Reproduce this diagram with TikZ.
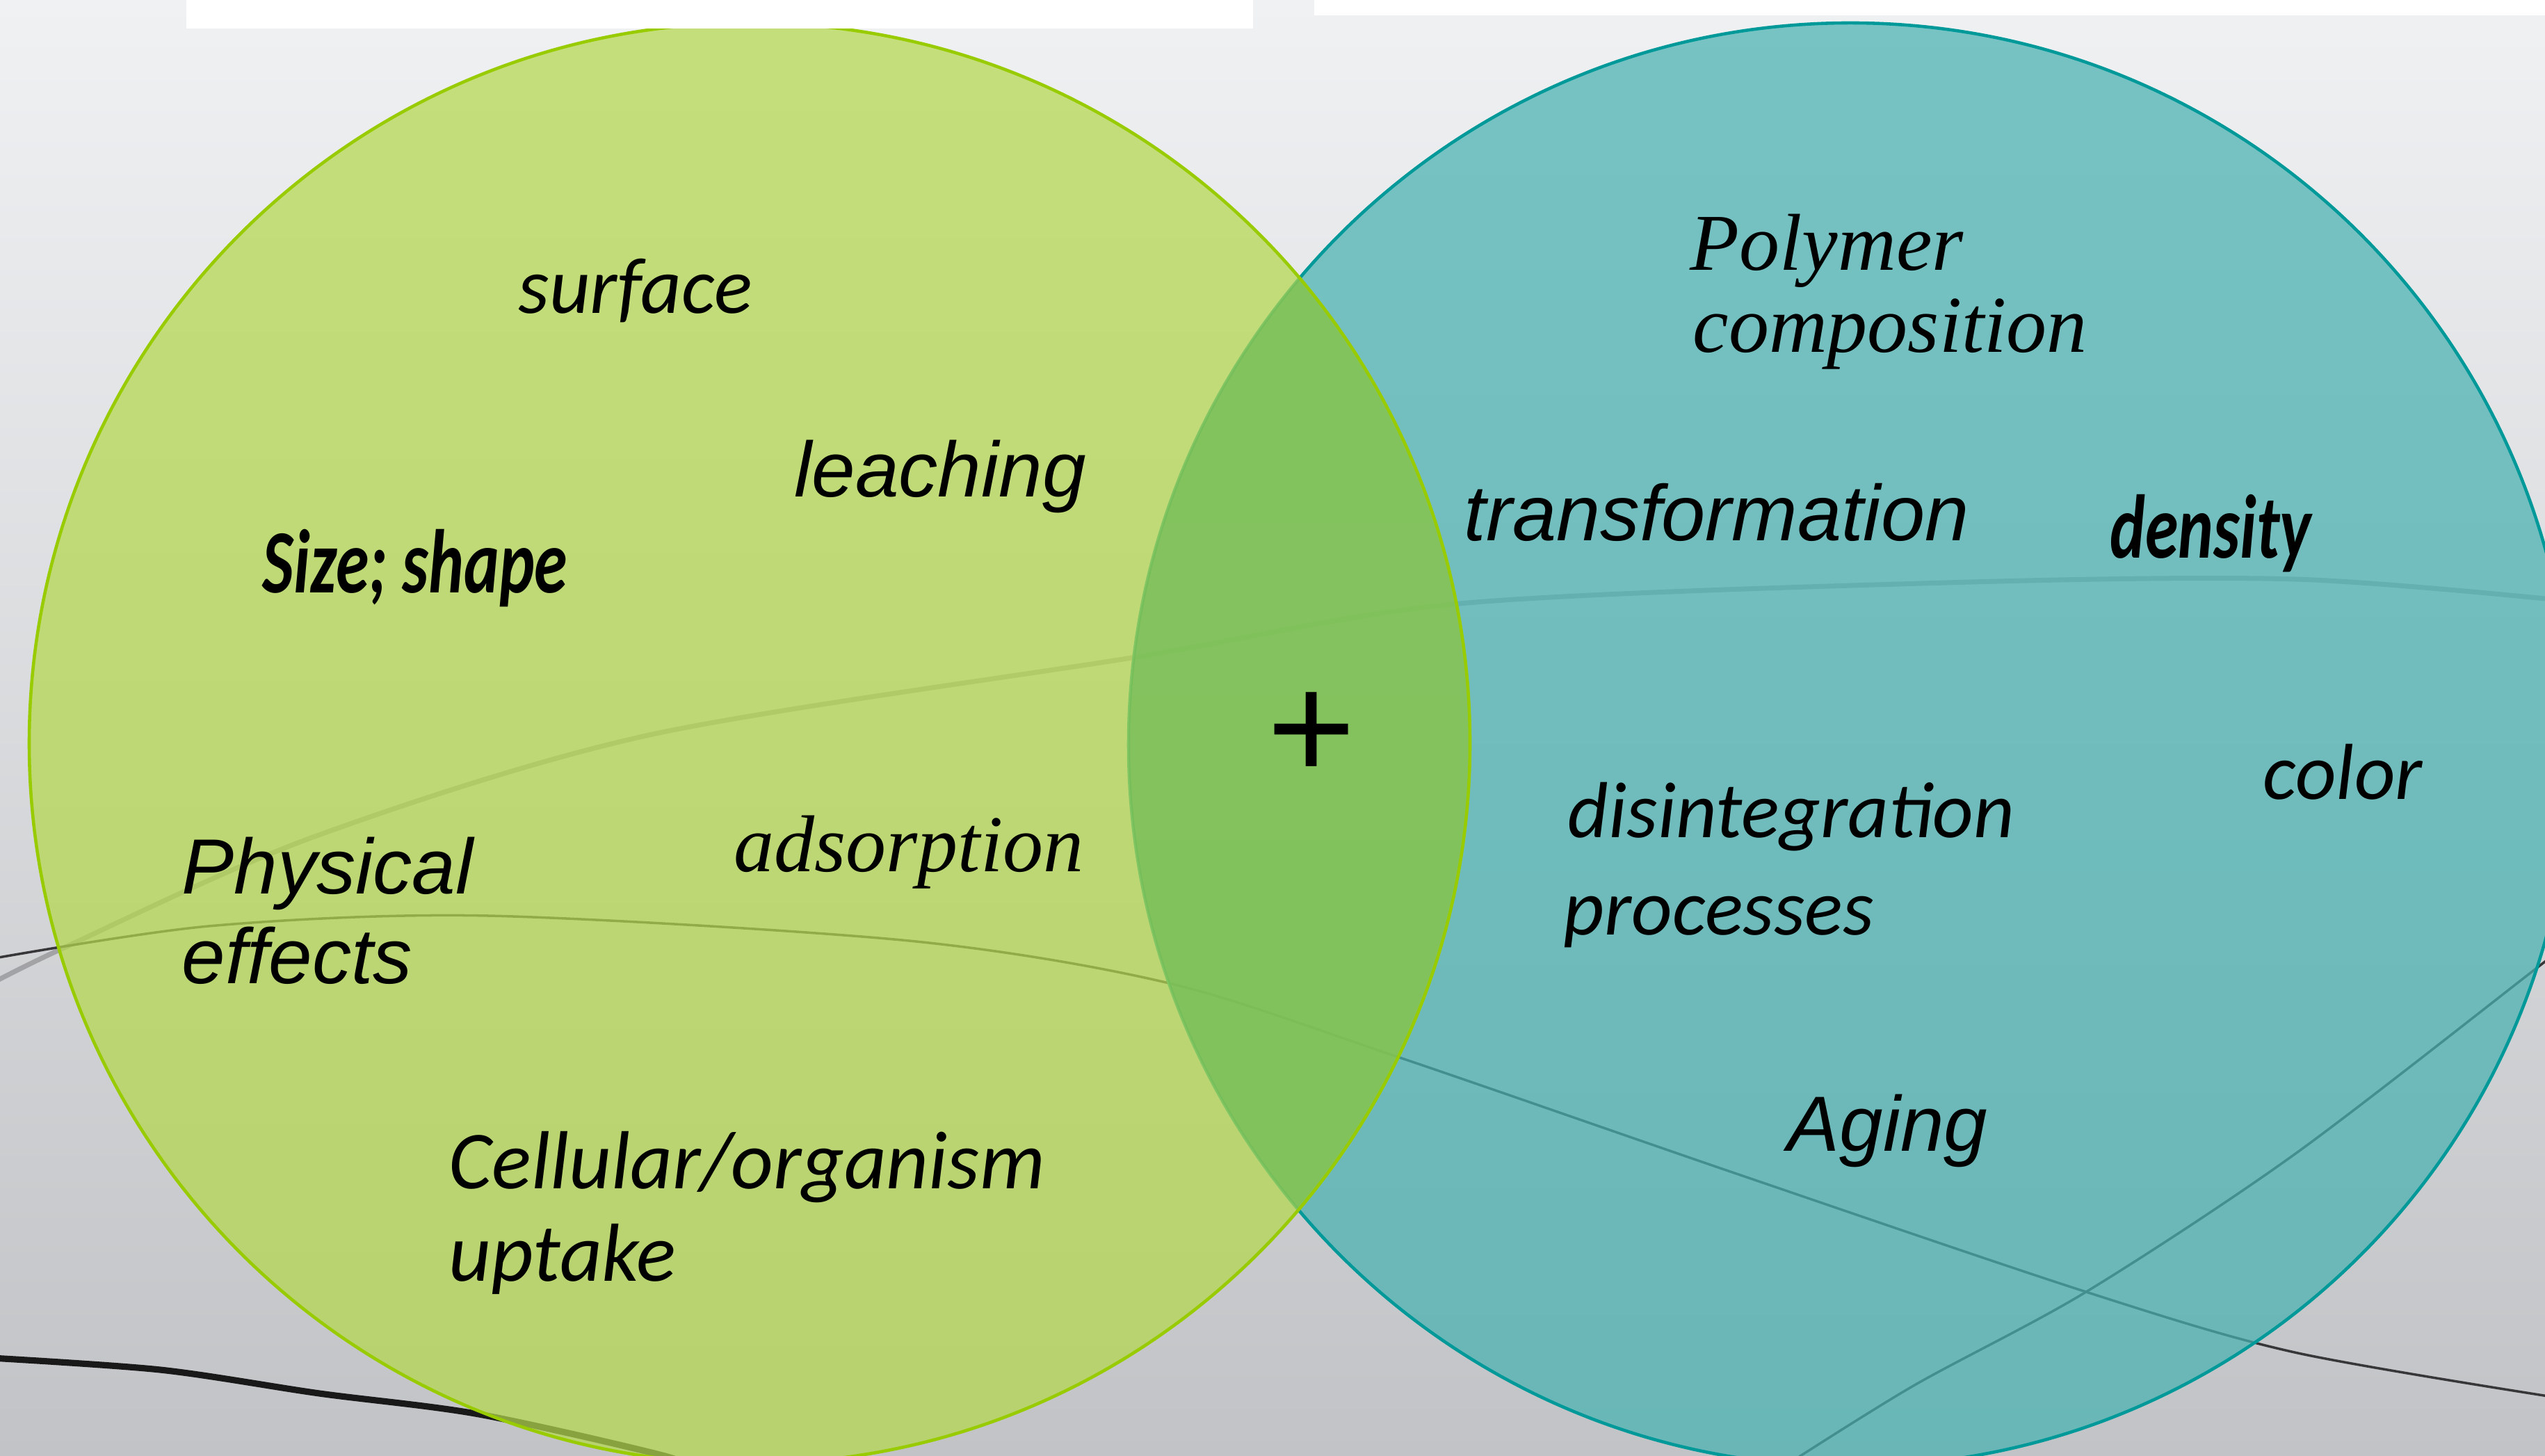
\documentclass[tikz,border=0pt]{standalone}
\usepackage{fontspec}
\usepackage{graphicx}
\usepackage{xcolor}
\usepackage{tikz}
\newfontfamily\arialfont{Liberation Sans}
\newfontfamily\timesfont{Liberation Serif}
\newfontfamily\calibrifont{Carlito}
\definecolor{bgtop}{RGB}{240,241,243}
\definecolor{bgmid}{RGB}{230,231,233}
\definecolor{bgbottom}{RGB}{194,195,198}
\definecolor{limefill}{RGB}{180,216,78}
\definecolor{limeedge}{RGB}{153,204,0}
\definecolor{tealfill}{RGB}{73,178,178}
\definecolor{tealedge}{RGB}{0,153,153}
\definecolor{overlapfill}{RGB}{111,186,84}
\definecolor{streak}{RGB}{55,55,58}
\newcommand{\narrow}[1]{\scalebox{0.74}[1]{#1}}
\tikzset{
  vennlabel/.style={anchor=base west, inner sep=0pt, text=black},
  sanslabel/.style={vennlabel, font=\arialfont\itshape\fontsize{32}{38}\selectfont},
  seriflabel/.style={vennlabel, font=\timesfont\itshape\fontsize{33}{40}\selectfont},
  softlabel/.style={vennlabel, font=\calibrifont\itshape\fontsize{32.5}{39}\selectfont},
  heavylabel/.style={vennlabel, font=\calibrifont\bfseries\itshape\fontsize{37}{44}\selectfont},
  streakline/.style={draw=streak, line width=1pt, line cap=round},
  venncircle/.style={fill opacity=0.72, line width=1.3pt}
}

\begin{document}
\begin{tikzpicture}
  \useasboundingbox (0,0) rectangle (36.6,20.94);
  \shade[top color=bgtop, middle color=bgmid, bottom color=bgbottom] (0,0) rectangle (36.6,20.94);

  % background streaks
  \begin{scope}
    \clip (0,0) rectangle (36.6,20.94);
    \draw[streakline, draw opacity=0.3, line width=2pt]
      plot[smooth] coordinates {(-0.3,6.7) (0.9,7.3) (4.5,8.9) (9.34,10.37) (16.34,11.49) (21.0,12.26) (28.0,12.56) (33.0,12.61) (36.9,12.3)};
    \draw[streakline]
      plot[smooth] coordinates {(-0.3,7.12) (3.0,7.62) (7.0,7.77) (13.07,7.41) (16.81,6.80) (20.07,5.75) (25.0,4.05) (30.0,2.36) (33.0,1.49) (36.9,0.82)};
    \draw[streakline]
      plot[smooth] coordinates {(25.5,-0.25) (27.5,1.0) (30.0,2.36) (33.0,4.34) (36.47,7.01) (36.9,7.35)};
    \draw[streakline, draw=black!90, line width=2.6pt]
      plot[smooth] coordinates {(-0.3,1.42) (2.3,1.24) (4.59,0.90) (6.89,0.60) (9.56,0) (9.9,-0.2)};
  \end{scope}

  % the two sets
  \coordinate (leftc) at (10.78,10.25);
  \coordinate (rightc) at (26.61,10.23);
  \draw[venncircle, fill=tealfill, draw=tealedge] (rightc) circle (10.38);
  \fill[limefill, fill opacity=0.72] (leftc) circle (10.36);
  \begin{scope}
    \clip (leftc) circle (10.36);
    \fill[overlapfill, fill opacity=0.6] (rightc) circle (10.38);
  \end{scope}
  \draw[limeedge, line width=1.3pt] (leftc) circle (10.36);

  \fill[white] (2.68,20.53) rectangle (18.02,20.94);
  \fill[white] (18.9,20.72) rectangle (36.6,20.94);

  \node[softlabel] (surface) at (7.45,16.43) {surface};
  \node[sanslabel] (leaching) at (11.42,13.79) {leaching};
  \node[heavylabel] (sizeshape) at (3.77,12.41) {\narrow{Size; shape}};
  \node[sanslabel] (physical) at (2.61,8.08) {Physical};
  \node[sanslabel] (effects) at (2.61,6.79) {effects};
  \node[seriflabel] (adsorption) at (10.55,8.40) {adsorption};
  \node[softlabel, font=\calibrifont\itshape\fontsize{33.7}{40}\selectfont] (cellular) at (6.45,3.84) {Cellular/organism};
  \node[softlabel, font=\calibrifont\itshape\fontsize{33.7}{40}\selectfont] (uptake) at (6.45,2.51) {uptake};

  \node[font=\arialfont\fontsize{62}{70}\selectfont, inner sep=0pt] (plus) at (18.86,10.35) {+};

  \node[seriflabel] (polymer) at (24.30,17.05) {Polymer};
  \node[seriflabel] (composition) at (24.34,15.87) {composition};
  \node[sanslabel, font=\arialfont\itshape\fontsize{32.3}{38}\selectfont] (transformation) at (21.05,13.16) {transformation};
  \node[heavylabel] (density) at (30.34,12.91) {\narrow{density}};
  \node[softlabel] (color) at (32.54,9.44) {color};
  \node[softlabel] (disintegration) at (22.54,8.89) {disintegration};
  \node[softlabel] (processes) at (22.48,7.49) {processes};
  \node[sanslabel] (aging) at (25.70,4.38) {Aging};
\end{tikzpicture}
\end{document}
